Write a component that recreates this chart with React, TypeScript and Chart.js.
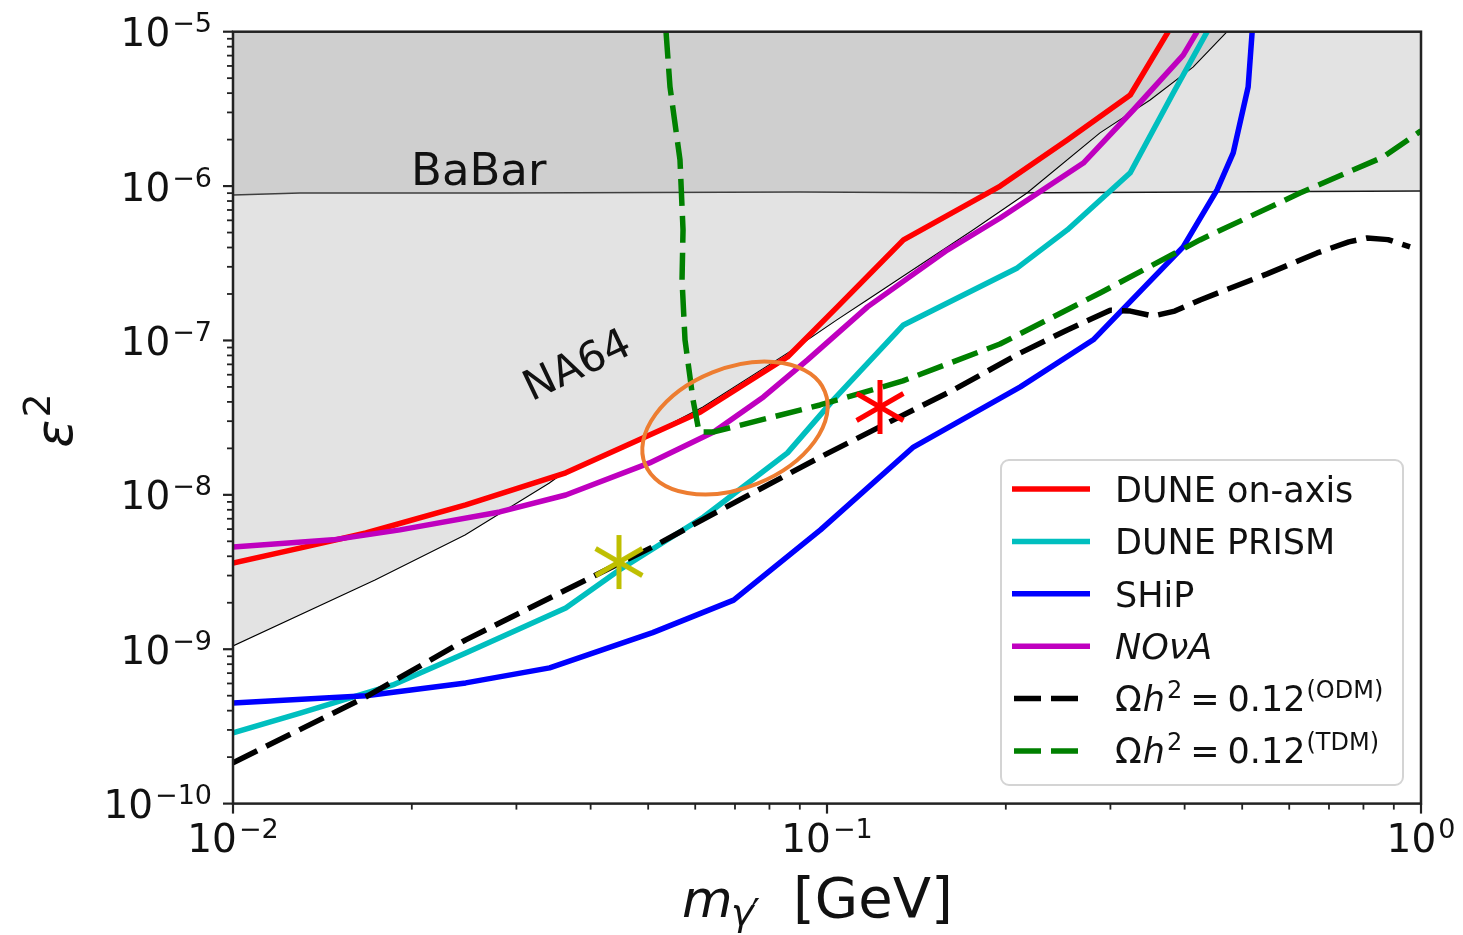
import React, { useEffect, useRef } from 'react';
import { Chart, registerables } from 'chart.js';

Chart.register(...registerables);

const FONT = '"DejaVu Sans", "Liberation Sans", sans-serif';

// ---------------- data (x = m_gamma' [GeV], y = epsilon^2) ----------------
const duneOnAxisX = [0.01, 0.01301, 0.01674, 0.02465, 0.03632, 0.05027, 0.06125, 0.0858, 0.1041, 0.1345, 0.1957, 0.2538, 0.324, 0.3754];
const duneOnAxisY = [3.62e-9, 4.53e-9, 5.66e-9, 8.61e-9, 1.39e-8, 2.44e-8, 3.44e-8, 7.82e-8, 1.65e-7, 4.48e-7, 1.0e-6, 1.99e-6, 3.89e-6, 1e-5];

const dunePrismX = [0.01, 0.01297, 0.01858, 0.02465, 0.03632, 0.04477, 0.06198, 0.0858, 0.1025, 0.1345, 0.2091, 0.2538, 0.324, 0.3827, 0.4365];
const dunePrismY = [2.87e-10, 3.86e-10, 5.87e-10, 9.46e-10, 1.85e-9, 3.27e-9, 7.19e-9, 1.87e-8, 4.12e-8, 1.26e-7, 2.95e-7, 5.2e-7, 1.22e-6, 4.01e-6, 1e-5];

const shipX = [0.01, 0.01674, 0.02465, 0.03412, 0.05087, 0.06963, 0.0975, 0.1398, 0.2116, 0.2807, 0.3978, 0.4536, 0.4829, 0.5117, 0.5197];
const shipY = [4.49e-10, 4.99e-10, 6.05e-10, 7.57e-10, 1.28e-9, 2.08e-9, 5.93e-9, 2.04e-8, 5.0e-8, 1.01e-7, 4.04e-7, 9.44e-7, 1.64e-6, 4.39e-6, 1e-5];

const novaX = [0.01, 0.01473, 0.0191, 0.02812, 0.03632, 0.05027, 0.06443, 0.07817, 0.09273, 0.117, 0.1594, 0.1957, 0.2701, 0.3279, 0.3978, 0.4199];
const novaY = [4.6e-9, 5.11e-9, 5.93e-9, 7.75e-9, 9.98e-9, 1.61e-8, 2.55e-8, 4.31e-8, 7.48e-8, 1.65e-7, 3.85e-7, 6.21e-7, 1.41e-6, 3.11e-6, 7.06e-6, 1e-5];

const odmX = [0.01, 0.01674, 0.02465, 0.03632, 0.05087, 0.06619, 0.0975, 0.1264, 0.1632, 0.2116, 0.2538, 0.2998, 0.3241, 0.3541, 0.3850, 0.4248, 0.5508, 0.6686, 0.7560, 0.8114, 0.8800, 0.9583];
const odmY = [1.84e-10, 4.91e-10, 1.15e-9, 2.42e-9, 4.6e-9, 7.98e-9, 1.76e-8, 2.92e-8, 4.78e-8, 8.3e-8, 1.17e-7, 1.57e-7, 1.55e-7, 1.44e-7, 1.55e-7, 1.83e-7, 2.7e-7, 3.69e-7, 4.35e-7, 4.61e-7, 4.5e-7, 4.04e-7];

const tdmX = [0.05358, 0.05441, 0.05656, 0.05723, 0.05701, 0.05767, 0.0595, 0.0609, 0.06428, 0.09732, 0.1342, 0.1955, 0.2881, 0.4245, 0.6255, 0.863, 1.0];
const tdmY = [1e-5, 4.39e-6, 1.48e-6, 5.2e-7, 2.47e-7, 1.01e-7, 4.12e-8, 2.55e-8, 2.55e-8, 3.82e-8, 5.47e-8, 9.48e-8, 2.03e-7, 4.48e-7, 9.02e-7, 1.54e-6, 2.28e-6];

const na64X = [0.01, 0.01734, 0.02458, 0.03404, 0.03622, 0.05015, 0.06182, 0.08335, 0.08904, 0.1039, 0.1168, 0.1761, 0.2171, 0.2881, 0.3499, 0.4133, 0.4716];
const na64Y = [1.05e-9, 2.81e-9, 5.5e-9, 1.19e-8, 1.41e-8, 2.44e-8, 3.71e-8, 7.71e-8, 9.08e-8, 1.36e-7, 1.83e-7, 5.2e-7, 9.02e-7, 2.21e-6, 3.61e-6, 5.9e-6, 1e-5];

const babarX = [0.01, 0.01297, 0.02815, 0.09005, 0.1955, 0.4245, 1.0];
const babarY = [8.75e-7, 9.02e-7, 9.02e-7, 9.16e-7, 9.02e-7, 9.16e-7, 9.29e-7];

const yellowStarX = [0.04465];
const yellowStarY = [3.67e-9];
const redStarX = [0.1228];
const redStarY = [3.71e-8];

// annotation anchors (data coordinates)
const babarLabelPos = [0.01994, 1.017e-6];
const na64LabelPos = [0.0318, 4.02e-8];
const ellipseCenter = [0.07, 2.71e-8];

// axes
const xMin = 0.01, xMax = 1;
const yMin = 1e-10, yMax = 1e-5;
const xMajorTicks = [0.01, 0.1, 1];
const xTickExponents = ['\u22122', '\u22121', '0'];
const yMajorTicks = [1e-10, 1e-9, 1e-8, 1e-7, 1e-6, 1e-5];
const yTickExponents = ['\u221210', '\u22129', '\u22128', '\u22127', '\u22126', '\u22125'];
const minorMultipliers = [2, 3, 4, 5, 6, 7, 8, 9];

// legend
const legendLabels = ['DUNE on-axis', 'DUNE PRISM', 'SHiP', 'NO\u03bdA', 'ODM', 'TDM'];
const legendColors = ['#ff0000', '#00bfbf', '#0000ff', '#bf00bf', '#000000', '#008000'];
const legendDashed = [false, false, false, false, true, true];

const LW = 5.5;

const toPoints = (xs: number[], ys: number[]) => xs.map((x, i) => ({ x, y: ys[i] }));

function makeAsterisk(color: string) {
  const c = document.createElement('canvas');
  c.width = 64;
  c.height = 64;
  const g = c.getContext('2d') as CanvasRenderingContext2D;
  g.strokeStyle = color;
  g.lineWidth = 5;
  g.lineCap = 'butt';
  const r = 27;
  for (const ang of [90, 30, -30]) {
    const t = (ang * Math.PI) / 180;
    g.beginPath();
    g.moveTo(32 - r * Math.cos(t), 32 + r * Math.sin(t));
    g.lineTo(32 + r * Math.cos(t), 32 - r * Math.sin(t));
    g.stroke();
  }
  return c;
}

function drawPow(ctx: CanvasRenderingContext2D, exp: string, x: number, baseline: number, align: string) {
  ctx.font = `39px ${FONT}`;
  const wb = ctx.measureText('10').width;
  ctx.font = `27px ${FONT}`;
  const we = ctx.measureText(exp).width;
  const gap = 2;
  const total = wb + gap + we;
  const x0 = align === 'right' ? x - total : x - total / 2;
  ctx.textAlign = 'left';
  ctx.font = `39px ${FONT}`;
  ctx.fillText('10', x0, baseline);
  ctx.font = `27px ${FONT}`;
  ctx.fillText(exp, x0 + wb + gap, baseline - 14);
}

function drawPieces(ctx: CanvasRenderingContext2D, x: number, baseline: number, pieces: any[]) {
  let cx = x;
  ctx.textAlign = 'left';
  for (const [t, f, dy, gap] of pieces) {
    ctx.font = f;
    ctx.fillText(t, cx, baseline + dy);
    cx += ctx.measureText(t).width + gap;
  }
}

function roundRectPath(ctx: CanvasRenderingContext2D, x: number, y: number, w: number, h: number, r: number) {
  ctx.beginPath();
  ctx.moveTo(x + r, y);
  ctx.arcTo(x + w, y, x + w, y + h, r);
  ctx.arcTo(x + w, y + h, x, y + h, r);
  ctx.arcTo(x, y + h, x, y, r);
  ctx.arcTo(x, y, x + w, y, r);
  ctx.closePath();
}

const decorPlugin = {
  id: 'decor',
  afterDraw(chart: any) {
    const ctx: CanvasRenderingContext2D = chart.ctx;
    const a = chart.chartArea;
    const xs = chart.scales.x;
    const ys = chart.scales.y;
    ctx.save();
    ctx.textBaseline = 'alphabetic';
    ctx.fillStyle = '#111';

    // region labels
    ctx.font = `45px ${FONT}`;
    ctx.textAlign = 'left';
    ctx.fillText('BaBar', xs.getPixelForValue(babarLabelPos[0]), ys.getPixelForValue(babarLabelPos[1]));
    ctx.save();
    ctx.translate(xs.getPixelForValue(na64LabelPos[0]), ys.getPixelForValue(na64LabelPos[1]));
    ctx.rotate((-25.5 * Math.PI) / 180);
    ctx.font = `42px ${FONT}`;
    ctx.fillText('NA64', 0, 0);
    ctx.restore();

    // orange ellipse highlight
    ctx.beginPath();
    ctx.ellipse(
      xs.getPixelForValue(ellipseCenter[0]),
      ys.getPixelForValue(ellipseCenter[1]),
      97, 60, (-22 * Math.PI) / 180, 0, 2 * Math.PI
    );
    ctx.strokeStyle = '#ed7d31';
    ctx.lineWidth = 4;
    ctx.stroke();

    // frame
    ctx.strokeStyle = '#222';
    ctx.lineWidth = 2.5;
    ctx.strokeRect(a.left, a.top, a.right - a.left, a.bottom - a.top);

    // ticks
    ctx.lineCap = 'butt';
    const xDecades = [0.01, 0.1];
    const yDecades = [1e-10, 1e-9, 1e-8, 1e-7, 1e-6];
    ctx.lineWidth = 2.2;
    for (const v of xMajorTicks) {
      const px = xs.getPixelForValue(v);
      ctx.beginPath(); ctx.moveTo(px, a.bottom); ctx.lineTo(px, a.bottom + 10); ctx.stroke();
    }
    for (const v of yMajorTicks) {
      const py = ys.getPixelForValue(v);
      ctx.beginPath(); ctx.moveTo(a.left - 10, py); ctx.lineTo(a.left, py); ctx.stroke();
    }
    ctx.lineWidth = 1.8;
    for (const d of xDecades) {
      for (const m of minorMultipliers) {
        const px = xs.getPixelForValue(d * m);
        ctx.beginPath(); ctx.moveTo(px, a.bottom); ctx.lineTo(px, a.bottom + 6); ctx.stroke();
      }
    }
    for (const d of yDecades) {
      for (const m of minorMultipliers) {
        const py = ys.getPixelForValue(d * m);
        ctx.beginPath(); ctx.moveTo(a.left - 6, py); ctx.lineTo(a.left, py); ctx.stroke();
      }
    }

    // tick labels
    ctx.fillStyle = '#111';
    xMajorTicks.forEach((v, i) => {
      drawPow(ctx, xTickExponents[i], xs.getPixelForValue(v), a.bottom + 48.5, 'center');
    });
    yMajorTicks.forEach((v, i) => {
      drawPow(ctx, yTickExponents[i], a.left - 21, ys.getPixelForValue(v) + 14.5, 'right');
    });

    // axis titles
    ctx.textAlign = 'left';
    ctx.font = `italic 52px ${FONT}`;
    ctx.fillText('m', a.left + 449, a.bottom + 113);
    ctx.font = `italic 38px ${FONT}`;
    ctx.fillText('\u03b3', a.left + 498, a.bottom + 121);
    const gw = ctx.measureText('\u03b3').width;
    ctx.font = `38px ${FONT}`;
    ctx.fillText('\u2032', a.left + 498 + gw - 2, a.bottom + 121);
    ctx.font = `56px ${FONT}`;
    ctx.fillText('[GeV]', a.left + 560, a.bottom + 113);

    ctx.save();
    ctx.translate(72, (a.top + a.bottom) / 2 + 30);
    ctx.rotate(-Math.PI / 2);
    ctx.font = `italic 52px ${FONT}`;
    ctx.fillText('\u03b5', 0, 0);
    const ew = ctx.measureText('\u03b5').width;
    ctx.font = `38px ${FONT}`;
    ctx.fillText('2', ew + 2, -22);
    ctx.restore();

    // legend
    const right = a.right - 18;
    const bottom = a.bottom - 18.6;
    const w = 402, h = 325;
    const left = right - w, top = bottom - h;
    roundRectPath(ctx, left, top, w, h, 8);
    ctx.fillStyle = 'rgba(255,255,255,0.8)';
    ctx.fill();
    ctx.strokeStyle = '#d4d4d4';
    ctx.lineWidth = 2;
    ctx.stroke();
    for (let i = 0; i < legendLabels.length; i++) {
      const cy = top + 29 + i * 52.4;
      ctx.beginPath();
      ctx.strokeStyle = legendColors[i];
      ctx.lineWidth = LW;
      if (legendDashed[i]) {
        ctx.setLineDash([27, 10]);
        ctx.moveTo(left + 13, cy);
        ctx.lineTo(left + 77, cy);
      } else {
        ctx.setLineDash([]);
        ctx.moveTo(left + 11, cy);
        ctx.lineTo(left + 89, cy);
      }
      ctx.stroke();
      ctx.setLineDash([]);
      ctx.fillStyle = '#111';
      const tx = left + 114;
      if (i < 3) {
        ctx.font = `35px ${FONT}`;
        ctx.textAlign = 'left';
        ctx.fillText(legendLabels[i], tx, cy + 13);
      } else if (i === 3) {
        ctx.font = `italic 35px ${FONT}`;
        ctx.textAlign = 'left';
        ctx.fillText(legendLabels[i], tx, cy + 13);
      } else {
        drawPieces(ctx, tx, cy + 12, [
          ['\u03a9', `35px ${FONT}`, 0, 1],
          ['h', `italic 35px ${FONT}`, 0, 2],
          ['2', `24px ${FONT}`, -13, 8],
          ['=', `35px ${FONT}`, 0, 8],
          ['0.12', `35px ${FONT}`, 0, 1],
          ['(' + legendLabels[i] + ')', `24px ${FONT}`, -13, 0],
        ]);
      }
    }
    ctx.restore();
  },
};

export default function App() {
  const ref = useRef<HTMLCanvasElement | null>(null);

  useEffect(() => {
    if (!ref.current) return;
    const fillGray = 'rgba(157,157,157,0.286)';
    const line = (data: any, color: string, extra: any = {}) => ({
      data,
      showLine: true,
      borderColor: color,
      backgroundColor: color,
      borderWidth: LW,
      pointRadius: 0,
      pointHoverRadius: 0,
      borderJoinStyle: 'round',
      fill: false,
      tension: 0,
      ...extra,
    });
    const chart = new Chart(ref.current, {
      type: 'scatter',
      data: {
        datasets: [
          line(toPoints(babarX, babarY), '#1a1a1a', { borderWidth: 1.6, backgroundColor: fillGray, fill: 'end', order: 20 }),
          line(toPoints(na64X, na64Y), '#000000', { borderWidth: 1.1, backgroundColor: fillGray, fill: 'end', order: 19 }),
          line(toPoints(duneOnAxisX, duneOnAxisY), '#ff0000', { order: 8 }),
          line(toPoints(dunePrismX, dunePrismY), '#00bfbf', { order: 7 }),
          line(toPoints(shipX, shipY), '#0000ff', { order: 6 }),
          line(toPoints(novaX, novaY), '#bf00bf', { order: 5 }),
          line(toPoints(odmX, odmY), '#000000', { borderDash: [27, 10], order: 4 }),
          line(toPoints(tdmX, tdmY), '#008000', { borderDash: [27, 10], order: 3 }),
          {
            data: toPoints(yellowStarX, yellowStarY),
            pointStyle: makeAsterisk('#bfbf00'),
            pointRadius: 10,
            showLine: false,
            order: 1,
          },
          {
            data: toPoints(redStarX, redStarY),
            pointStyle: makeAsterisk('#ff0000'),
            pointRadius: 10,
            showLine: false,
            order: 1,
          },
        ],
      },
      options: {
        animation: false,
        responsive: true,
        maintainAspectRatio: false,
        events: [],
        layout: { padding: { left: 233, right: 42, top: 31.7, bottom: 131.4 } },
        scales: {
          x: { type: 'logarithmic', min: xMin, max: xMax, display: false },
          y: { type: 'logarithmic', min: yMin, max: yMax, display: false },
        },
        plugins: {
          legend: { display: false },
          tooltip: { enabled: false },
        },
      } as any,
      plugins: [decorPlugin],
    });
    return () => chart.destroy();
  }, []);

  return (
    <div style={{ position: 'fixed', left: 0, top: 0, width: 1463, height: 935, background: '#ffffff' }}>
      <canvas ref={ref} />
    </div>
  );
}
